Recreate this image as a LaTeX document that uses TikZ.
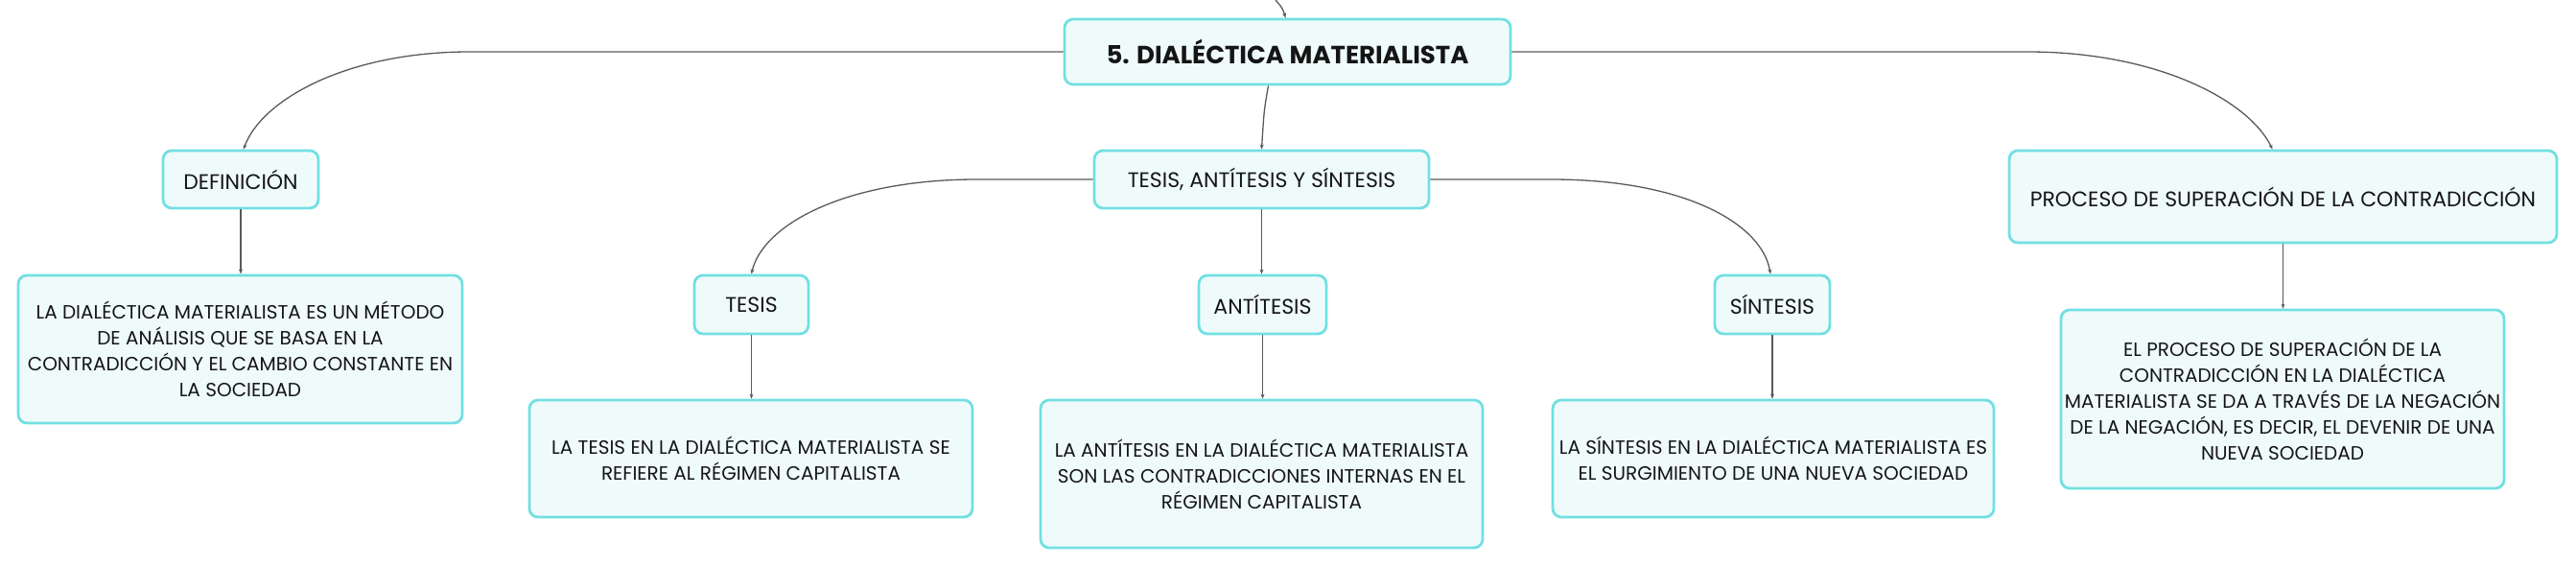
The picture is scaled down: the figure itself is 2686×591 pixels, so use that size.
\documentclass[tikz,border=0pt]{standalone}
\usepackage{fontspec}
\setmainfont{Poppins}
\usetikzlibrary{arrows.meta}
\definecolor{bordc}{HTML}{72DFE2}
\definecolor{fillc}{HTML}{EFFBFB}
\definecolor{linec}{HTML}{5A5A5A}
\definecolor{txtc}{HTML}{151515}
\begin{document}
\begin{tikzpicture}[x=1pt,y=-1pt,
  box/.style={draw=bordc, fill=fillc, line width=2.8pt, rounded corners=9pt,
    align=center, inner sep=0pt, text=txtc},
  body/.style={box, font=\fontsize{20pt}{27pt}\selectfont},
  lab/.style={box, font=\fontsize{22pt}{26pt}\selectfont},
  conn/.style={draw=linec, line width=1.3pt, -{Stealth[length=5pt,width=4pt]}}]
\useasboundingbox (0,0) rectangle (2686,591);
% main
\node[box, font=\fontsize{26pt}{30pt}\selectfont\bfseries, minimum width=465pt, minimum height=68pt] (main) at (1342.5,54) {5. DIALÉCTICA MATERIALISTA};
% level 1
\node[lab, minimum width=162pt, minimum height=60pt] (def) at (251,187) {DEFINICIÓN};
\node[lab, minimum width=349pt, minimum height=60pt] (tas) at (1315.5,187) {TESIS, ANTÍTESIS Y SÍNTESIS};
\node[lab, minimum width=571pt, minimum height=96pt] (proc) at (2380.5,205) {PROCESO DE SUPERACIÓN DE LA CONTRADICCIÓN};
% level 2
\node[lab, minimum width=119pt, minimum height=61pt] (tesis) at (783.5,317.5) {TESIS};
\node[lab, minimum width=133pt, minimum height=61pt] (ant) at (1316.5,317.5) {ANTÍTESIS};
\node[lab, minimum width=120pt, minimum height=61pt] (sin) at (1848,317.5) {SÍNTESIS};
% text boxes
\node[body, minimum width=463pt, minimum height=154pt] (deft) at (250.5,364) {LA DIALÉCTICA MATERIALISTA ES UN MÉTODO\\DE ANÁLISIS QUE SE BASA EN LA\\CONTRADICCIÓN Y EL CAMBIO CONSTANTE EN\\LA SOCIEDAD};
\node[body, minimum width=462pt, minimum height=122pt] (tt) at (783,478) {LA TESIS EN LA DIALÉCTICA MATERIALISTA SE\\REFIERE AL RÉGIMEN CAPITALISTA};
\node[body, minimum width=461pt, minimum height=154pt] (at) at (1315.5,494) {LA ANTÍTESIS EN LA DIALÉCTICA MATERIALISTA\\SON LAS CONTRADICCIONES INTERNAS EN EL\\RÉGIMEN CAPITALISTA};
\node[body, minimum width=460pt, minimum height=122pt] (st) at (1849,478) {LA SÍNTESIS EN LA DIALÉCTICA MATERIALISTA ES\\EL SURGIMIENTO DE UNA NUEVA SOCIEDAD};
\node[body, minimum width=462pt, minimum height=186pt] (pt) at (2380,416) {EL PROCESO DE SUPERACIÓN DE LA\\CONTRADICCIÓN EN LA DIALÉCTICA\\MATERIALISTA SE DA A TRAVÉS DE LA NEGACIÓN\\DE LA NEGACIÓN, ES DECIR, EL DEVENIR DE UNA\\NUEVA SOCIEDAD};
% connectors
\coordinate (topin) at (1330,0);
\draw[conn] (topin) .. controls (1337,8) .. ([xshift=-2pt]main.north);
\draw[conn] (main.west) -- (490,54) .. controls (360,54) and (272,105) .. ([xshift=3pt]def.north);
\draw[conn] (main.east) -- (2114,54) .. controls (2250,54) and (2345,105) .. ([xshift=-11pt]proc.north);
\draw[conn] ([xshift=-20pt]main.south) .. controls (1318,115) .. (tas.north);
\draw[conn] (tas.west) -- (1019,187) .. controls (880,187) and (795,235) .. (tesis.north);
\draw[conn] (tas.east) -- (1617,187) .. controls (1760,187) and (1838,235) .. ([xshift=-2pt]sin.north);
\draw[conn] (tas.south) -- (tas.south |- ant.north);
\draw[conn] (def.south) -- (def.south |- deft.north);
\draw[conn] (tesis.south) -- (tesis.south |- tt.north);
\draw[conn] (ant.south) -- (ant.south |- at.north);
\draw[conn] (sin.south) -- (sin.south |- st.north);
\draw[conn] (proc.south) -- (proc.south |- pt.north);
\end{tikzpicture}
\end{document}
